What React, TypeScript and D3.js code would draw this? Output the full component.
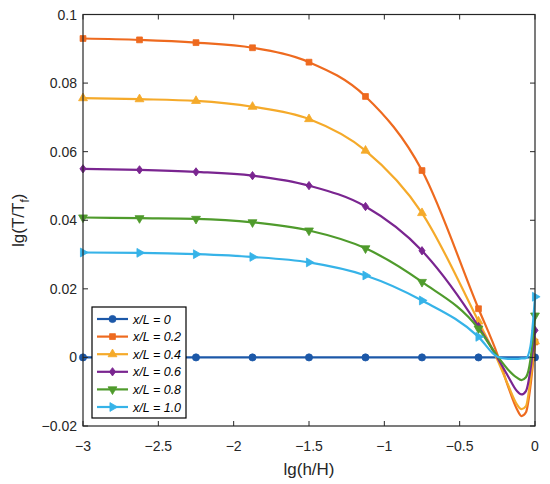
import React from "react";
import * as d3 from "d3";

// lg(h/H) positions; markers sit on the evenly spaced ones plus the end point
const xGrid = [-3, -2.625, -2.25, -1.875, -1.5, -1.125, -0.75, -0.375, -0.25, -0.18, -0.12, -0.09, -0.06, -0.03, 0];
const markerIdx = [0, 1, 2, 3, 4, 5, 6, 7, 14];

const labels = ["x/L = 0", "x/L = 0.2", "x/L = 0.4", "x/L = 0.6", "x/L = 0.8", "x/L = 1.0"];
const xL0 = [0, 0, 0, 0, 0, 0, 0, 0, 0, 0, 0, 0, 0, 0, 0];
const xL02 = [0.093, 0.0926, 0.0918, 0.0903, 0.0861, 0.0761, 0.0545, 0.0142, 0.0009, -0.0083, -0.0151, -0.0171, -0.016, -0.0083, 0.0045];
const xL04 = [0.0756, 0.0753, 0.0748, 0.0731, 0.0695, 0.0603, 0.0421, 0.0105, -0.0006, -0.0079, -0.0137, -0.0151, -0.0142, -0.0064, 0.0047];
const xL06 = [0.055, 0.0547, 0.0541, 0.053, 0.0501, 0.044, 0.0311, 0.009, 0.0, -0.0054, -0.0098, -0.0108, -0.0098, -0.0035, 0.0079];
const xL08 = [0.0408, 0.0406, 0.0404, 0.0394, 0.037, 0.0318, 0.022, 0.0084, 0.0004, -0.0035, -0.0059, -0.0066, -0.0058, -0.0006, 0.0122];
const xL10 = [0.0306, 0.0305, 0.0301, 0.0293, 0.0277, 0.0239, 0.0166, 0.006, 0.0002, -0.0004, -0.0004, -0.0003, -0.0002, 0.0033, 0.0177];

const xTicks = [-3, -2.5, -2, -1.5, -1, -0.5, 0];
const yTicks = [-0.02, 0, 0.02, 0.04, 0.06, 0.08, 0.1];

const colors = ["#1c58a8", "#ee6a1f", "#f5aa2a", "#7a2590", "#4f9b2c", "#36b3e8"];
const allSeries = [xL0, xL02, xL04, xL06, xL08, xL10];

const W = 550;
const H = 484;
const m = { top: 14.5, right: 15, bottom: 58, left: 83 };
const font = "'Liberation Sans', Arial, sans-serif";

const symbolFor = (i: number) => {
  const types = [d3.symbolCircle, d3.symbolSquare, d3.symbolTriangle, d3.symbolSquare, d3.symbolTriangle, d3.symbolTriangle];
  const sizes = [40, 34, 34, 26, 34, 34];
  return d3.symbol().type(types[i]).size(sizes[i])()!;
};
const xfFor = ["", "", "", " scale(0.85,1.15) rotate(45)", " rotate(180)", " rotate(90)"];

const fmt = (v: number) => (v === 0 ? "0" : v < 0 ? "\u2212" + String(-v) : String(v));

const Marker = ({ i, x, y }: { i: number; x: number; y: number }) => (
  <path
    d={symbolFor(i)}
    transform={`translate(${x},${y})${xfFor[i]}`}
    fill={colors[i]}
    stroke={colors[i]}
    strokeWidth={0.8}
  />
);

export default function App() {
  const x = d3.scaleLinear().domain([-3, 0]).range([m.left, W - m.right]);
  const y = d3.scaleLinear().domain([-0.02, 0.1]).range([H - m.bottom, m.top]);
  const line = d3
    .line<number>()
    .x((_, i) => x(xGrid[i]))
    .y((d) => y(d))
    .curve(d3.curveMonotoneX);

  const x0 = m.left;
  const x1 = W - m.right;
  const y0 = H - m.bottom;
  const y1 = m.top;
  const tl = 5;
  const axisColor = "#262626";

  const lgX = 92;
  const lgY = 307;
  const rowH = 17.6;

  return (
    <svg width={W} height={H} style={{ position: "absolute", left: 0, top: 0, background: "#fff" }} fontFamily={font}>
      {/* series */}
      {allSeries.map((s, i) => (
        <g key={i}>
          <path d={line(s)!} fill="none" stroke={colors[i]} strokeWidth={2.2} strokeLinejoin="round" />
          {markerIdx.map((k) => (
            <Marker key={k} i={i} x={x(xGrid[k])} y={y(s[k])} />
          ))}
        </g>
      ))}

      {/* axes box and ticks */}
      <rect x={x0} y={y1} width={x1 - x0} height={y0 - y1} fill="none" stroke={axisColor} strokeWidth={1.2} />
      {xTicks.map((t) => (
        <g key={"x" + t}>
          <line x1={x(t)} x2={x(t)} y1={y0} y2={y0 - tl} stroke={axisColor} />
          <line x1={x(t)} x2={x(t)} y1={y1} y2={y1 + tl} stroke={axisColor} />
          <text x={x(t)} y={451} fontSize={14} textAnchor="middle" fill="#262626">
            {fmt(t)}
          </text>
        </g>
      ))}
      {yTicks.map((t) => (
        <g key={"y" + t}>
          <line x1={x0} x2={x0 + tl} y1={y(t)} y2={y(t)} stroke={axisColor} />
          <line x1={x1} x2={x1 - tl} y1={y(t)} y2={y(t)} stroke={axisColor} />
          <text x={77} y={y(t) + 5} fontSize={14} textAnchor="end" fill="#262626">
            {fmt(t)}
          </text>
        </g>
      ))}

      {/* axis labels */}
      <text x={(x0 + x1) / 2} y={475} fontSize={17} textAnchor="middle" fill="#262626">
        lg(h/H)
      </text>
      <text transform={`translate(24,${(y0 + y1) / 2}) rotate(-90)`} fontSize={17} textAnchor="middle" fill="#262626">
        lg(T/T<tspan fontSize={12} dy={5}>f</tspan>
        <tspan dy={-5}>)</tspan>
      </text>

      {/* legend */}
      <rect x={lgX} y={lgY} width={94} height={111} fill="#fff" stroke="#000" strokeWidth={1.2} />
      {labels.map((lab, i) => {
        const ry = lgY + 12 + i * rowH;
        return (
          <g key={lab}>
            <line x1={lgX + 5} x2={lgX + 36} y1={ry} y2={ry} stroke={colors[i]} strokeWidth={2.2} />
            <Marker i={i} x={lgX + 20.5} y={ry} />
            <text x={lgX + 41} y={ry + 4.5} fontSize={12.5} fontStyle="italic" fill="#000">
              {lab}
            </text>
          </g>
        );
      })}
    </svg>
  );
}
